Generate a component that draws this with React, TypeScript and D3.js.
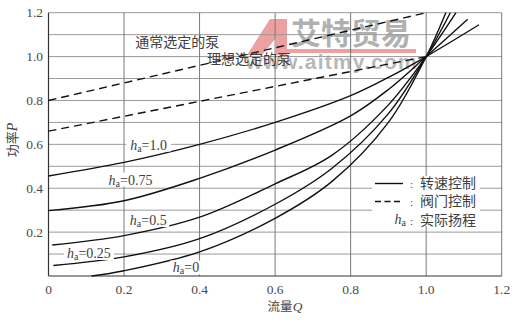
import React from "react";
import * as d3 from "d3";

// ---------- data ----------
const xTickValues = [0, 0.2, 0.4, 0.6, 0.8, 1.0, 1.2];
const xTickLabels = ["0", "0.2", "0.4", "0.6", "0.8", "1.0", "1.2"];
const yTickValues = [0.2, 0.4, 0.6, 0.8, 1.0, 1.2];
const yTickLabels = ["0.2", "0.4", "0.6", "0.8", "1.0", "1.2"];
const hGridValues = [0.1, 0.2, 0.3, 0.4, 0.5, 0.6, 0.7, 0.8, 0.9, 1.0, 1.1, 1.2];
const vGridValues = [0.2, 0.4, 0.6, 0.8, 1.0, 1.2];

// speed control (solid) curves, by actual head ha
const qHa100 = [0, 0.2, 0.4, 0.6, 0.8, 0.9, 1.0, 1.14];
const pHa100 = [0.456, 0.518, 0.6, 0.7, 0.822, 0.905, 1.0, 1.145];
const qHa075 = [0, 0.2, 0.4, 0.6, 0.8, 0.9, 1.0, 1.11];
const pHa075 = [0.298, 0.343, 0.445, 0.574, 0.73, 0.85, 1.0, 1.17];
const qHa050 = [0.01, 0.2, 0.4, 0.6, 0.75, 0.9, 1.0, 1.079];
const pHa050 = [0.141, 0.184, 0.268, 0.42, 0.55, 0.78, 1.0, 1.2];
const qHa025 = [0.013, 0.2, 0.4, 0.6, 0.75, 0.9, 1.0, 1.064];
const pHa025 = [0.048, 0.087, 0.17, 0.327, 0.49, 0.74, 1.0, 1.2];
const qHa000 = [0.114, 0.2, 0.4, 0.6, 0.75, 0.9, 1.0, 1.052];
const pHa000 = [0.0, 0.024, 0.11, 0.263, 0.43, 0.7, 1.0, 1.2];

// valve control (dashed) lines
const qUsualPump = [0, 1.0];
const pUsualPump = [0.8, 1.2];
const qIdealPump = [0, 1.0];
const pIdealPump = [0.66, 1.0];

const haLabels = ["1.0", "0.75", "0.5", "0.25", "0"];
const haLabelQ = [0.265, 0.217, 0.264, 0.107, 0.364];
const haLabelP = [0.597, 0.4375, 0.253, 0.1026, 0.0365];
const haLabelW = [41, 46, 38, 46, 28];

const pumpLabels = ["通常选定的泵", "理想选定的泵"];
const pumpLabelQ = [0.23, 0.42];
const pumpLabelP = [1.045, 0.965];

const legendItems = ["转速控制", "阀门控制", "实际扬程"];

const W = 519;
const H = 323;

export default function App() {
  const x = d3.scaleLinear().domain([0, 1.2]).range([48.5, 501.7]);
  const y = d3.scaleLinear().domain([0, 1.2]).range([276, 12.7]);

  const line = d3
    .line<[number, number]>()
    .x((d) => x(d[0]))
    .y((d) => y(d[1]))
    .curve(d3.curveCatmullRom.alpha(0.5));
  const straight = d3
    .line<[number, number]>()
    .x((d) => x(d[0]))
    .y((d) => y(d[1]));

  const zip = (q: number[], p: number[]) => q.map((v, i) => [v, p[i]] as [number, number]);
  const solid = [
    zip(qHa100, pHa100),
    zip(qHa075, pHa075),
    zip(qHa050, pHa050),
    zip(qHa025, pHa025),
    zip(qHa000, pHa000),
  ];
  const dashed = [zip(qUsualPump, pUsualPump), zip(qIdealPump, pIdealPump)];

  const serif = "'Liberation Serif', 'DejaVu Serif', serif";
  const cjk = "'Noto Sans CJK SC', sans-serif";
  const textColor = "#404040";

  return (
    <svg
      width={W}
      height={H}
      style={{ position: "absolute", left: 0, top: 0, background: "#fff" }}
    >
      <rect x={0} y={0} width={W} height={H} fill="#fff" />

      {/* watermark */}
      <g opacity={0.7}>
        <path d="M247,55 L270,19 L287,19 L287,55 L276,55 L276,38 L262,55 Z" fill="#e57878" />
        <rect x={280} y={49} width={136} height={4} fill="#e57878" />
        <text x={351} y={44} textAnchor="middle" fontFamily={cjk} fontWeight={700} fontSize={30} fill="#8f8f8f">
          艾特贸易
        </text>
        <text x={332} y={69} textAnchor="middle" fontFamily="'Liberation Sans', Arial, sans-serif" fontWeight={700} fontSize={21} letterSpacing={1.2} fill="#9a9a9a">
          www.aitmy.com
        </text>
      </g>

      {/* grid */}
      {hGridValues.map((v) => (
        <line key={"h" + v} x1={x(0)} x2={x(1.2)} y1={y(v)} y2={y(v)} stroke="#9a9a9a" strokeWidth={1} />
      ))}
      {vGridValues.map((v) => (
        <line key={"v" + v} x1={x(v)} x2={x(v)} y1={y(0)} y2={y(1.2)} stroke="#7a7a7a" strokeWidth={1} />
      ))}
      {/* axes */}
      <line x1={x(0)} x2={x(0)} y1={y(0)} y2={y(1.2)} stroke="#333" strokeWidth={1.2} />
      <line x1={x(0)} x2={x(1.2)} y1={y(0)} y2={y(0)} stroke="#333" strokeWidth={1.2} />

      {/* legend background */}
      <rect x={372} y={176} width={108} height={50} fill="#fff" />

      {/* curves */}
      {dashed.map((d, i) => (
        <path key={"d" + i} d={straight(d) || ""} fill="none" stroke="#111" strokeWidth={1.4} strokeDasharray="8,5" />
      ))}
      {solid.map((d, i) => (
        <path key={"s" + i} d={line(d) || ""} fill="none" stroke="#111" strokeWidth={1.4} />
      ))}

      {/* ha labels */}
      {haLabels.map((lab, i) => {
        const cx = x(haLabelQ[i]);
        const cy = y(haLabelP[i]);
        return (
          <g key={"l" + i}>
            <rect x={cx - haLabelW[i] / 2 - 2} y={cy - 7.5} width={haLabelW[i] + 4} height={14} fill="#fff" />
            <text x={cx} y={cy + 4.5} textAnchor="middle" fontFamily={serif} fontSize={14} fill={textColor}>
              <tspan fontStyle="italic">h</tspan>
              <tspan fontSize={10} dy={2}>a</tspan>
              <tspan dy={-2}>={lab}</tspan>
            </text>
          </g>
        );
      })}

      {/* pump labels */}
      {pumpLabels.map((lab, i) => (
        <text key={"p" + i} x={x(pumpLabelQ[i])} y={y(pumpLabelP[i])} fontFamily={cjk} fontSize={14} fill={textColor}>
          {lab}
        </text>
      ))}

      {/* legend */}
      <line x1={375} x2={403} y1={183.5} y2={183.5} stroke="#111" strokeWidth={1.4} />
      <line x1={375} x2={403} y1={201.5} y2={201.5} stroke="#111" strokeWidth={1.4} strokeDasharray="6,3.5" />
      <text x={406} y={224} textAnchor="end" fontFamily={serif} fontSize={14} fill={textColor}>
        <tspan fontStyle="italic">h</tspan>
        <tspan fontSize={10} dy={2}>a</tspan>
      </text>
      {legendItems.map((lab, i) => (
        <g key={"lg" + i}>
          <text x={410} y={188 + i * 18.3} fontFamily={serif} fontSize={11} fill={textColor}>:</text>
          <text x={420} y={188 + i * 18.3} fontFamily={cjk} fontSize={14} fill={textColor}>
            {lab}
          </text>
        </g>
      ))}

      {/* tick labels */}
      {xTickValues.map((v, i) => (
        <text key={"xt" + v} x={x(v)} y={294} textAnchor="middle" fontFamily={serif} fontSize={13.5} fill="#4a4a4a">
          {xTickLabels[i]}
        </text>
      ))}
      {yTickValues.map((v, i) => (
        <text key={"yt" + v} x={43} y={y(v) + 4.5} textAnchor="end" fontFamily={serif} fontSize={13.5} fill="#4a4a4a">
          {yTickLabels[i]}
        </text>
      ))}

      {/* axis titles */}
      <text x={285} y={311} textAnchor="middle" fontFamily={cjk} fontSize={12.5} fill="#444">
        流量<tspan fontFamily={serif} fontStyle="italic" fontSize={13.5}>Q</tspan>
      </text>
      <text
        transform={`translate(17,140) rotate(-90)`}
        textAnchor="middle"
        fontFamily={cjk}
        fontSize={13}
        fill="#444"
      >
        功率<tspan fontFamily={serif} fontStyle="italic" fontSize={14}>P</tspan>
      </text>
    </svg>
  );
}
